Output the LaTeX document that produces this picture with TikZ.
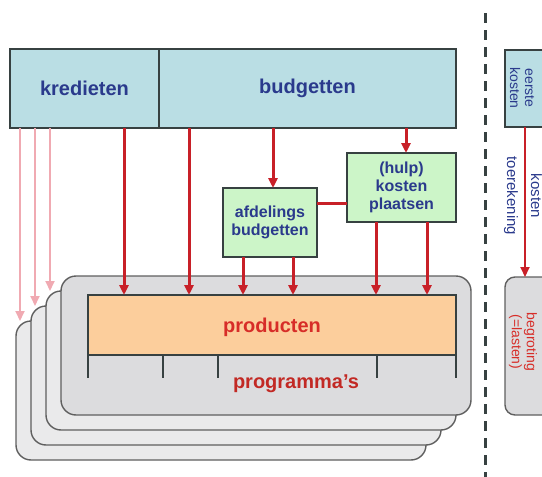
\documentclass[tikz,border=0pt]{standalone}
\usepackage{fontspec}
\setmainfont{Liberation Sans}
\usetikzlibrary{arrows.meta, positioning}

\definecolor{topfill}{RGB}{186,222,228}
\definecolor{boxline}{RGB}{55,65,65}
\definecolor{txtblue}{RGB}{42,58,140}
\definecolor{greenfill}{RGB}{204,245,200}
\definecolor{prodfill}{RGB}{252,206,156}
\definecolor{stackfill}{RGB}{220,220,222}
\definecolor{stackback}{RGB}{234,234,235}
\definecolor{stackline}{RGB}{95,95,95}
\definecolor{arrowred}{RGB}{200,32,40}
\definecolor{pinkred}{RGB}{240,170,178}
\definecolor{prodred}{RGB}{215,45,40}

\begin{document}
\begin{tikzpicture}[
      x=0.5pt, y=-0.5pt, >={Triangle[length=5pt,width=4.5pt]},
      every node/.style={inner sep=0pt, outer sep=0pt},
      topbox/.style={draw=boxline, fill=topfill, line width=0.8pt, minimum height=39.5pt,
          font=\bfseries\fontsize{10}{12}\selectfont, text=txtblue},
      greenbox/.style={draw=boxline, fill=greenfill, line width=0.8pt, minimum height=34.5pt,
          align=center, font=\bfseries\fontsize{8}{9}\selectfont, text=txtblue},
      progbox/.style={draw=stackline, rounded corners=7.5pt, line width=0.7pt,
          minimum width=205pt, minimum height=69.5pt},
      redarrow/.style={->, draw=arrowred, line width=1.5pt},
      pinkarrow/.style={->, draw=pinkred, line width=1pt},
      progtick/.style={draw=boxline, line width=1.2pt},
      sidetxt/.style={rotate=-90, align=center, font=\fontsize{7}{7.5}\selectfont}
      ]
      \useasboundingbox (0,0) rectangle (542,477);
      \clip (0,0) rectangle (542,477);

      % stacked programma's
      \foreach \i/\c in {3/stackback,2/stackback,1/stackback,0/stackfill}
        \node[progbox, fill=\c] (prog\i) at ({266-15*\i},{345.5+15*\i}) {};

      \node[topbox, minimum width=74.5pt]        (kred) at (84.5,88.5)  {kredieten};
      \node[topbox, minimum width=148.5pt]       (budg) [right=0pt of kred] {budgetten};
      \node[greenbox, minimum width=47pt]        (afd)  at (270,222.5)  {afdelings\\budgetten};
      \node[greenbox, minimum width=54.5pt]      (hulp) at (401.5,187.5) {(hulp)\\kosten\\plaatsen};
      \node[draw=boxline, fill=prodfill, line width=0.8pt, minimum width=184pt, minimum height=30pt,
          text depth=0pt, font=\bfseries\fontsize{10}{12}\selectfont, text=prodred] (prod) at (272,325) {producten};
      \node[font=\bfseries\fontsize{10}{12}\selectfont, text=prodred!90!black] (proglabel) at (296,384) {programma's};

      \foreach \tx in {88,163,218,377,456}
        \draw[progtick] (prod.south -| \tx,0) -- ++(0,23);

      % kredieten naar programma's
      \foreach \px/\j in {20/3,35/2,50/1}
        \draw[pinkarrow] (kred.south -| \px,0) -- (prog\j.north -| \px,0);

      \foreach \px/\a/\b in {124/kred/prod, 189/budg/prod, 273/budg/afd, 406/budg/hulp,
                             243/afd/prod, 293/afd/prod, 376/hulp/prod, 427/hulp/prod}
        \draw[redarrow] (\a.south -| \px,0) -- (\b.north -| \px,0);
      \draw[draw=arrowred, line width=1.5pt] (afd.east |- 0,203) -- (hulp.west |- 0,203);

      % rechterkant
      \draw[boxline, line width=1.5pt, dash pattern=on 5pt off 3.5pt] (485,13) -- (485,477);
      \node[draw=boxline, fill=topfill, line width=0.8pt, minimum width=30pt, minimum height=38.5pt]
          (eerste) at (535,88.5) {};
      \node[sidetxt, text=txtblue] (eerstetxt) at (522,88) {eerste\\kosten};
      \node[draw=stackline, fill=stackfill, rounded corners=5pt, line width=0.7pt,
          minimum width=30pt, minimum height=69pt] (begr) at (535,346) {};
      \node[sidetxt, text=prodred] (begrtxt) at (523,342) {begroting\\(=lasten)};

      \draw[->, draw=arrowred, line width=1pt] (eerste.south -| 525,0) -- (begr.north -| 525,0)
          node[pos=0.46, xshift=-1pt, sidetxt, font=\fontsize{7.5}{12}\selectfont, text=txtblue] (toerek) {kosten\\toerekening};
    \end{tikzpicture}
\end{document}
